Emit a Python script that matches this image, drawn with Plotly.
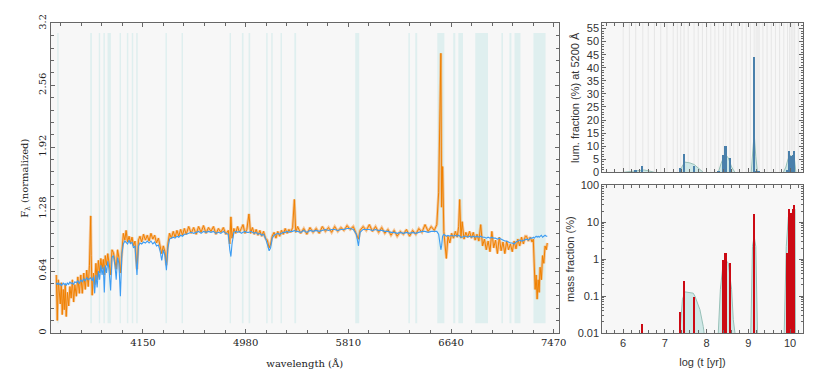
"""Ajuste espectral: espectro observado vs modelo y poblaciones estelares."""

import plotly.graph_objects as go

SERIF = "DejaVu Serif, Liberation Serif, serif"
SANS = "Liberation Sans, Arial, sans-serif"
FRAME = "#666666"

# --- espectro (Å, flujo normalizado) ---
wave = [
    3450, 3458, 3466, 3474, 3482, 3490, 3498, 3506, 3514, 3522, 3530, 3540, 3550, 3560, 3570, 3580,
    3590, 3600, 3612, 3624, 3636, 3648, 3660, 3672, 3684, 3696, 3708, 3718, 3724, 3728, 3732, 3740,
    3750, 3760, 3770, 3780, 3790, 3800, 3810, 3820, 3830, 3838, 3846, 3856, 3866, 3876, 3889, 3900,
    3912, 3924, 3934, 3945, 3956, 3968, 3980, 3992, 4004, 4014, 4026, 4038, 4050, 4062, 4074, 4086,
    4102, 4114, 4126, 4140, 4155, 4170, 4185, 4200, 4215, 4230, 4245, 4260, 4275, 4290, 4302, 4315,
    4328, 4340, 4352, 4365, 4380, 4395, 4410, 4425, 4440, 4455, 4470, 4485, 4500, 4520, 4540, 4560,
    4580, 4600, 4620, 4640, 4660, 4680, 4700, 4720, 4740, 4760, 4780, 4800, 4820, 4840, 4852, 4861,
    4870, 4885, 4900, 4915, 4930, 4945, 4959, 4975, 4990, 5007, 5020, 5035, 5050, 5065, 5080, 5095,
    5110, 5125, 5140, 5155, 5170, 5182, 5195, 5210, 5225, 5240, 5255, 5270, 5285, 5300, 5315, 5330,
    5345, 5360, 5374, 5385, 5400, 5425, 5450, 5475, 5500, 5525, 5550, 5575, 5600, 5625, 5650, 5675,
    5700, 5725, 5750, 5775, 5800, 5825, 5850, 5875, 5892, 5905, 5930, 5955, 5980, 6005, 6030, 6055,
    6080, 6105, 6130, 6155, 6180, 6205, 6230, 6255, 6280, 6305, 6330, 6355, 6380, 6405, 6430, 6455,
    6480, 6505, 6525, 6540, 6550, 6558, 6564, 6572, 6582, 6592, 6602, 6615, 6630, 6645, 6660, 6675,
    6690, 6702, 6710, 6720, 6730, 6745, 6760, 6775, 6790, 6805, 6820, 6835, 6850, 6865, 6880, 6895,
    6910, 6925, 6940, 6955, 6970, 6985, 7000, 7015, 7030, 7045, 7060, 7075, 7090, 7105, 7120, 7135,
    7150, 7165, 7180, 7195, 7210, 7225, 7240, 7250, 7265, 7280, 7295, 7305, 7312, 7320, 7328, 7336,
    7344, 7352, 7360, 7370, 7380, 7390, 7400, 7410, 7418,
]
flux_obs = [
    0.60, 0.13, 0.55, 0.44, 0.30, 0.52, 0.19, 0.45, 0.24, 0.50, 0.17, 0.42, 0.28, 0.48, 0.36, 0.55,
    0.32, 0.50, 0.38, 0.58, 0.41, 0.60, 0.41, 0.62, 0.45, 0.65, 0.48, 0.70, 1.03, 1.21, 0.80, 0.39,
    0.62, 0.50, 0.72, 0.55, 0.75, 0.62, 0.77, 0.66, 0.76, 0.60, 0.80, 0.70, 0.82, 0.72, 0.60, 0.86,
    0.83, 0.74, 0.66, 0.86, 0.78, 0.62, 0.88, 1.03, 0.96, 1.06, 0.94, 1.00, 0.93, 0.99, 0.90, 0.95,
    0.66, 0.96, 1.00, 0.94, 1.02, 0.96, 1.01, 0.95, 1.03, 0.97, 1.01, 0.93, 0.98, 0.88, 0.82, 0.90,
    0.84, 0.70, 0.92, 1.03, 0.98, 1.05, 0.99, 1.06, 1.00, 1.07, 1.01, 1.08, 1.02, 1.10, 1.03, 1.09,
    1.02, 1.10, 1.04, 1.11, 1.03, 1.09, 1.05, 1.10, 1.02, 1.08, 1.04, 1.09, 1.02, 1.06, 0.92, 1.20,
    0.98, 1.08, 1.03, 1.10, 1.04, 1.08, 1.12, 1.03, 1.07, 1.23, 1.03, 1.09, 1.02, 1.07, 1.01, 1.06,
    1.00, 1.05, 0.98, 0.96, 0.88, 0.92, 1.00, 1.04, 0.98, 1.05, 1.00, 1.06, 1.02, 1.08, 1.03, 1.07,
    1.04, 1.09, 1.38, 1.04, 1.10, 1.03, 1.08, 1.02, 1.09, 1.04, 1.08, 1.03, 1.10, 1.05, 1.09, 1.04,
    1.10, 1.05, 1.09, 1.06, 1.11, 1.07, 1.10, 1.02, 0.97, 1.06, 1.10, 1.06, 1.12, 1.05, 1.10, 1.04,
    1.09, 1.03, 1.07, 1.01, 1.06, 1.00, 1.05, 1.02, 1.07, 1.00, 1.06, 1.02, 1.08, 1.04, 1.12, 1.05,
    1.10, 1.06, 1.12, 1.45, 2.40, 2.89, 1.30, 1.72, 1.05, 0.90, 0.77, 1.00, 0.93, 1.03, 0.98, 1.05,
    0.99, 1.10, 1.38, 0.98, 1.15, 0.97, 1.04, 0.99, 1.05, 0.98, 1.04, 0.96, 1.02, 0.95, 1.12, 0.90,
    0.97, 0.86, 0.95, 0.84, 1.05, 0.88, 0.96, 0.82, 0.99, 0.85, 0.94, 0.82, 0.95, 0.86, 0.92, 0.84,
    0.95, 0.87, 0.97, 0.90, 0.99, 0.92, 1.00, 1.00, 0.95, 0.99, 0.94, 0.97, 0.70, 0.45, 0.60, 0.35,
    0.55, 0.42, 0.68, 0.55, 0.80, 0.72, 0.90, 0.86, 0.93,
]
flux_mod = [
    0.52, 0.50, 0.52, 0.50, 0.51, 0.49, 0.50, 0.52, 0.50, 0.51, 0.49, 0.52, 0.50, 0.53, 0.51, 0.52,
    0.50, 0.53, 0.52, 0.54, 0.51, 0.55, 0.53, 0.56, 0.54, 0.57, 0.55, 0.56, 0.56, 0.57, 0.56, 0.54,
    0.58, 0.41, 0.60, 0.47, 0.64, 0.55, 0.70, 0.60, 0.68, 0.42, 0.70, 0.62, 0.74, 0.66, 0.44, 0.78,
    0.80, 0.70, 0.55, 0.78, 0.72, 0.38, 0.82, 0.92, 0.95, 0.94, 0.92, 0.96, 0.92, 0.94, 0.88, 0.90,
    0.60, 0.90, 0.93, 0.92, 0.94, 0.93, 0.95, 0.93, 0.95, 0.92, 0.94, 0.90, 0.91, 0.84, 0.75, 0.86,
    0.80, 0.65, 0.88, 0.97, 0.98, 0.99, 0.98, 1.00, 0.99, 1.01, 1.00, 1.02, 1.02, 1.03, 1.04, 1.03,
    1.04, 1.05, 1.03, 1.05, 1.04, 1.05, 1.04, 1.05, 1.03, 1.04, 1.03, 1.05, 1.03, 1.02, 0.86, 0.79,
    0.92, 1.04, 1.05, 1.04, 1.05, 1.03, 1.04, 1.05, 1.04, 1.04, 1.05, 1.04, 1.03, 1.04, 1.02, 1.03,
    1.01, 1.02, 0.98, 0.92, 0.85, 0.88, 0.98, 1.01, 1.02, 1.03, 1.02, 1.03, 1.04, 1.04, 1.05, 1.04,
    1.05, 1.05, 1.06, 1.05, 1.05, 1.04, 1.06, 1.04, 1.06, 1.05, 1.06, 1.05, 1.06, 1.07, 1.06, 1.07,
    1.07, 1.06, 1.07, 1.07, 1.08, 1.08, 1.07, 1.02, 0.90, 1.04, 1.07, 1.07, 1.07, 1.06, 1.07, 1.06,
    1.06, 1.05, 1.05, 1.04, 1.04, 1.03, 1.04, 1.03, 1.04, 1.03, 1.04, 1.03, 1.04, 1.05, 1.05, 1.04,
    1.05, 1.05, 1.05, 1.02, 0.95, 0.86, 0.90, 1.00, 1.02, 1.01, 1.00, 1.01, 1.00, 1.01, 1.00, 1.01,
    1.00, 1.01, 1.00, 0.99, 0.99, 1.00, 1.00, 0.99, 1.00, 0.99, 1.00, 0.99, 1.00, 0.99, 1.00, 0.99,
    0.99, 0.98, 0.99, 0.98, 0.99, 0.98, 0.98, 0.97, 0.98, 0.97, 0.96, 0.95, 0.95, 0.94, 0.93, 0.93,
    0.92, 0.94, 0.95, 0.96, 0.95, 0.96, 0.97, 0.97, 0.96, 0.98, 0.98, 0.99, 0.98, 0.99, 1.00, 0.99,
    1.00, 0.99, 1.00, 1.01, 0.99, 1.00, 1.01, 1.00, 1.00,
]

# regiones enmascaradas (Å)
mask_lo = [3457, 3724, 3793, 3831, 3864, 3961, 4020, 4060, 4096, 4332, 4462, 4850, 4950, 5004, 5146,
           5187, 5262, 5374, 5866, 6295, 6351, 6529, 6658, 6699, 6836, 7047, 7112, 7153, 7306]
mask_hi = [3469, 3738, 3805, 3843, 3891, 3973, 4032, 4072, 4108, 4344, 4474, 4862, 4963, 5017, 5158,
           5199, 5274, 5388, 5898, 6308, 6367, 6586, 6675, 6737, 6939, 7060, 7128, 7201, 7404]

# --- poblaciones (log edad) ---
base_ages = [6.0, 6.15, 6.3, 6.47, 6.6, 6.75, 6.9, 7.05, 7.2, 7.3, 7.38, 7.46, 7.56, 7.7, 7.8, 7.9,
             8.0, 8.1, 8.2, 8.29, 8.4, 8.46, 8.56, 8.65, 8.75, 8.85, 8.95, 9.05, 9.14, 9.25, 9.35,
             9.45, 9.55, 9.65, 9.75, 9.85, 9.94, 9.99, 10.03, 10.07, 10.11, 10.2]

lum_age = [6.30, 6.466, 7.377, 7.464, 7.697, 8.29, 8.40, 8.457, 8.56, 9.144, 9.20, 9.25,
           9.94, 9.99, 10.03, 10.07, 10.11]
lum_frac = [0.9, 2.4, 1.4, 7.0, 2.2, 0.5, 6.6, 9.8, 5.5, 44.0, 0.5, 0.5,
            0.6, 7.9, 6.0, 6.6, 7.9]

mass_age = [6.466, 7.377, 7.464, 7.697, 8.40, 8.457, 8.56, 9.144, 9.94, 9.99, 10.03, 10.07, 10.11]
mass_frac = [0.017, 0.037, 0.25, 0.094, 0.91, 1.47, 0.755, 16.6, 1.47, 23.0, 17.8, 21.9, 29.0]

# distribución suavizada (grupos separados por None)
lum_smooth_age = [6.0, 6.2, 6.35, 6.5, 6.6, 6.75, None,
                  7.36, 7.42, 7.48, 7.6, 7.7, 7.8, 7.92, None,
                  8.28, 8.35, 8.44, 8.52, 8.6, 8.68, None,
                  9.07, 9.11, 9.14, 9.18, 9.22, None,
                  9.84, 9.9, 9.95, 10.0, 10.05, 10.1, 10.14]
lum_smooth = [0, 0.4, 0.7, 0.9, 0.6, 0, None,
              0, 2.5, 3.9, 3.6, 3.0, 1.6, 0, None,
              0, 3.5, 7.0, 5.5, 2.0, 0, None,
              0, 8.0, 15.0, 6.0, 0, None,
              0, 2.0, 5.0, 6.5, 6.0, 6.0, 0]

mass_smooth_age = [7.36, 7.42, 7.48, 7.68, 7.72, 7.84, 7.92, 7.94, None,
                   8.28, 8.33, 8.38, 8.45, 8.52, 8.60, 8.64, 8.68, None,
                   9.06, 9.10, 9.14, 9.18, 9.22, None,
                   9.86, 9.91, 9.96, 10.02, 10.12, 10.13]
mass_smooth = [0.01, 0.08, 0.13, 0.12, 0.10, 0.043, 0.015, 0.01, None,
               0.01, 0.15, 0.52, 0.97, 0.78, 0.15, 0.023, 0.01, None,
               0.01, 2.2, 4.2, 2.2, 0.01, None,
               0.01, 2.2, 14.0, 17.0, 22.0, 0.01]

SMOOTH_FILL = "#cfe8e7"
SMOOTH_LINE = "#98c0b8"


def frame(**kw):
    base = dict(showline=True, linecolor=FRAME, linewidth=1, mirror="ticks", ticks="inside",
                ticklen=4, tickcolor=FRAME, showgrid=False, zeroline=False, automargin=False)
    base.update(kw)
    return base


fig = go.Figure()

# panel izquierdo: espectro
for lo, hi in zip(mask_lo, mask_hi):
    fig.add_shape(type="rect", xref="x", yref="y", x0=lo, x1=hi, y0=0.1, y1=3.1,
                  fillcolor="#dfefef", line_width=0, layer="below")
fig.add_trace(go.Scatter(x=wave, y=flux_obs, mode="lines",
                         line=dict(color="rgba(242,165,90,0.6)", width=2.8)))
fig.add_trace(go.Scatter(x=wave, y=flux_obs, mode="lines", line=dict(color="#f08000", width=1)))
fig.add_trace(go.Scatter(x=wave, y=flux_mod, mode="lines", line=dict(color="#3d9cf2", width=1.1)))

# panel superior derecho: fracción en luz
for a in base_ages:
    fig.add_shape(type="line", xref="x2", yref="y2 domain", x0=a, x1=a, y0=0, y1=1,
                  line=dict(color="#e0e0e0", width=0.7), layer="below")
fig.add_shape(type="rect", xref="x2", yref="y2 domain", x0=9.17, x1=9.28, y0=0, y1=1,
              fillcolor="#ededed", line_width=0, layer="below")
fig.add_trace(go.Scatter(x=lum_smooth_age, y=lum_smooth, mode="lines", fill="toself",
                         fillcolor=SMOOTH_FILL, line=dict(color=SMOOTH_LINE, width=1),
                         xaxis="x2", yaxis="y2"))
# barras en un eje superpuesto para que queden encima del relleno
fig.add_trace(go.Bar(x=lum_age, y=lum_frac, width=0.055, marker=dict(color="#4a80ab", line_width=0),
                     xaxis="x2", yaxis="y4"))

# panel inferior derecho: fracción en masa
fig.add_trace(go.Scatter(x=mass_smooth_age, y=mass_smooth, mode="lines", fill="toself",
                         fillcolor=SMOOTH_FILL, line=dict(color=SMOOTH_LINE, width=1),
                         xaxis="x3", yaxis="y3"))
fig.add_trace(go.Bar(x=mass_age, y=mass_frac, width=0.055, marker=dict(color="#cc0a14", line_width=0),
                     xaxis="x3", yaxis="y5"))

serif_font = dict(family=SERIF, size=10, color="#222")
sans_font = dict(family=SANS, size=11, color="#333")

fig.update_layout(
    width=817, height=383, margin=dict(l=0, r=0, t=0, b=0),
    paper_bgcolor="white", plot_bgcolor="#f7f7f7", showlegend=False,
    barmode="overlay", bargap=0,
    xaxis=frame(domain=[0.0621, 0.6838], range=[3405, 7510], tick0=4150, dtick=830,
                minor=dict(ticks="inside", dtick=166, tick0=4150, ticklen=3, tickcolor=FRAME),
                tickfont=serif_font,
                title=dict(text="wavelength (Å)", font=serif_font, standoff=12)),
    yaxis=frame(domain=[0.1305, 0.9392], range=[0, 3.2], tick0=0, dtick=0.64, tickangle=-90,
                minor=dict(ticks="inside", dtick=0.128, ticklen=3, tickcolor=FRAME),
                tickfont=serif_font,
                title=dict(text="F<sub>λ</sub> (normalized)", font=serif_font, standoff=6)),
    xaxis2=frame(domain=[0.7372, 0.9823], range=[5.5, 10.3], dtick=1, showticklabels=False,
                 minor=dict(ticks="inside", dtick=0.2, tick0=5.0, ticklen=3, tickcolor=FRAME),
                 anchor="y2"),
    yaxis2=frame(domain=[0.5501, 0.9392], range=[0, 57], dtick=5, anchor="x2",
                 minor=dict(ticks="inside", dtick=1, ticklen=2, tickcolor=FRAME),
                 tickfont=sans_font,
                 title=dict(text="lum. fraction (%) at 5200 Å", font=sans_font, standoff=4)),
    yaxis4=dict(overlaying="y2", anchor="x2", range=[0, 57], visible=False, automargin=False),
    xaxis3=frame(domain=[0.7372, 0.9823], range=[5.5, 10.3], dtick=1, anchor="y3",
                 minor=dict(ticks="inside", dtick=0.2, tick0=5.0, ticklen=3, tickcolor=FRAME),
                 tickfont=sans_font,
                 title=dict(text="log (t [yr])", font=sans_font, standoff=10)),
    yaxis3=frame(domain=[0.1305, 0.5162], type="log", range=[-2, 2], anchor="x3",
                 tickvals=[0.01, 0.1, 1, 10, 100], ticktext=["0.01", "0.1", "1", "10", "100"],
                 minor=dict(ticks="inside", ticklen=2, tickcolor=FRAME, dtick="D1"),
                 tickfont=sans_font,
                 title=dict(text="mass fraction (%)", font=sans_font, standoff=0)),
    yaxis5=dict(overlaying="y3", anchor="x3", type="log", range=[-2, 2], visible=False,
                automargin=False),
)

# sin margen del body para que el gráfico ocupe la ventana exacta
fig.write_html("out.html", config={"displayModeBar": False},
               post_script="document.body.style.margin='0';")
